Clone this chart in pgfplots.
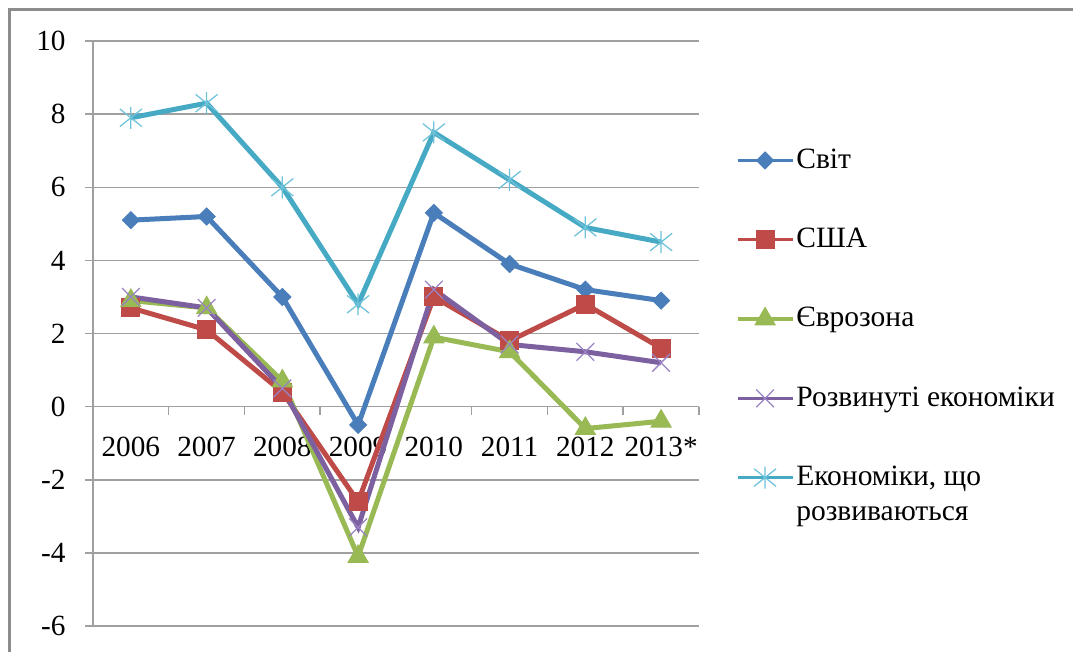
\documentclass[border=0pt]{standalone}
\usepackage{fontspec}
\setmainfont{Liberation Serif}
\usepackage{pgfplots}
\pgfplotsset{compat=1.18}
\definecolor{cBlue}{HTML}{4A7EBB}
\definecolor{cRed}{HTML}{BE4B48}
\definecolor{cGreen}{HTML}{98B954}
\definecolor{cPurple}{HTML}{7D60A0}
\definecolor{cPurpleL}{HTML}{9A84C4}
\definecolor{cTeal}{HTML}{46AAC5}
\definecolor{cTealL}{HTML}{6EC2DA}
\definecolor{cGrid}{HTML}{A0A0A0}
\definecolor{cFrame}{HTML}{8C8C8C}
\pgfdeclareplotmark{xstar}{%
  \pgfpathmoveto{\pgfqpoint{0pt}{\pgfplotmarksize}}%
  \pgfpathlineto{\pgfqpoint{0pt}{-\pgfplotmarksize}}%
  \pgfpathmoveto{\pgfqpoint{-\pgfplotmarksize}{.8\pgfplotmarksize}}%
  \pgfpathlineto{\pgfqpoint{\pgfplotmarksize}{-.8\pgfplotmarksize}}%
  \pgfpathmoveto{\pgfqpoint{-\pgfplotmarksize}{-.8\pgfplotmarksize}}%
  \pgfpathlineto{\pgfqpoint{\pgfplotmarksize}{.8\pgfplotmarksize}}%
  \pgfusepathqstroke}
\begin{document}
\begin{tikzpicture}
\useasboundingbox (0,0) rectangle (429.2pt,260.4pt);
\fill[white] (0,0) rectangle (429.2pt,260.4pt);
\draw[cFrame, line width=1.2pt] (3.6pt,-2pt) -- (3.6pt,256.4pt) -- (432pt,256.4pt);
\begin{axis}[
  scale only axis, width=242.4pt, height=234pt,
  at={(37.2pt,10pt)}, anchor=south west,
  xmin=-0.5, xmax=7.5, ymin=-6, ymax=10,
  axis x line=middle, axis y line=left,
  axis line style={-, draw=cGrid, line width=0.6pt},
  xtick={0,...,7},
  xticklabels={2006,2007,2008,2009,2010,2011,2012,2013*},
  minor xtick={-0.5,0.5,...,7.5},
  major x tick style={draw=none},
  ytick={-6,-4,...,10},
  yticklabels={-6,-4,-2,0,2,4,6,8,10},
  tick align=outside,
  major tick length=3.2pt, minor tick length=3.2pt,
  tick style={cGrid, line width=0.6pt},
  ymajorgrids, major grid style={cGrid, line width=0.6pt},
  /pgf/number format/assume math mode=true,
  ticklabel style={font=\fontsize{11.7}{14}\selectfont, text=black},
  xticklabel style={anchor=base, yshift=-16.8pt, inner sep=0pt},
  yticklabel style={anchor=east, inner sep=0pt, xshift=-7.6pt},
  clip=false,
  legend style={at={(1.060,0.820)}, anchor=north west, draw=none, fill=none,
    inner sep=0pt, row sep=20.8pt,
    font=\fontsize{11.8}{14}\selectfont,
    nodes={inner sep=0.8pt}},
  legend cell align=left,
  legend image code/.code={\draw[mark repeat=2,mark phase=2,line width=1.4pt]
    plot coordinates {(0pt,0pt)(11pt,0pt)(22pt,0pt)};},
]
\addplot[cBlue, line width=2pt, mark=square*, mark size=2.4pt,
  mark options={rotate=45, line width=0.4pt}] coordinates
  {(0,5.1)(1,5.2)(2,3.0)(3,-0.5)(4,5.3)(5,3.9)(6,3.2)(7,2.9)};
\addlegendentry{Світ}
\addplot[cRed, line width=2pt, mark=square*, mark size=3.6pt,
  mark options={line width=0.4pt}] coordinates
  {(0,2.7)(1,2.1)(2,0.4)(3,-2.6)(4,3.0)(5,1.8)(6,2.8)(7,1.6)};
\addlegendentry{США}
\addplot[cGreen, line width=2pt, mark=triangle*, mark size=4.6pt,
  mark options={line width=0.4pt}] coordinates
  {(0,2.9)(1,2.7)(2,0.7)(3,-4.1)(4,1.9)(5,1.5)(6,-0.6)(7,-0.4)};
\addlegendentry{Єврозона}
\addplot[cPurple, line width=2pt, mark=x, mark size=5pt,
  mark options={line width=0.5pt, draw=cPurpleL}] coordinates
  {(0,3.0)(1,2.7)(2,0.5)(3,-3.3)(4,3.2)(5,1.7)(6,1.5)(7,1.2)};
\addlegendentry{Розвинуті економіки}
\addplot[cTeal, line width=2pt, mark=xstar, mark size=4.4pt,
  mark options={line width=0.5pt, draw=cTealL}] coordinates
  {(0,7.9)(1,8.3)(2,6.0)(3,2.8)(4,7.5)(5,6.2)(6,4.9)(7,4.5)};
\addlegendentry{\vtop{\baselineskip=14pt\hbox{Економіки, що}\hbox{розвиваються}}}
\end{axis}
\end{tikzpicture}
\end{document}
